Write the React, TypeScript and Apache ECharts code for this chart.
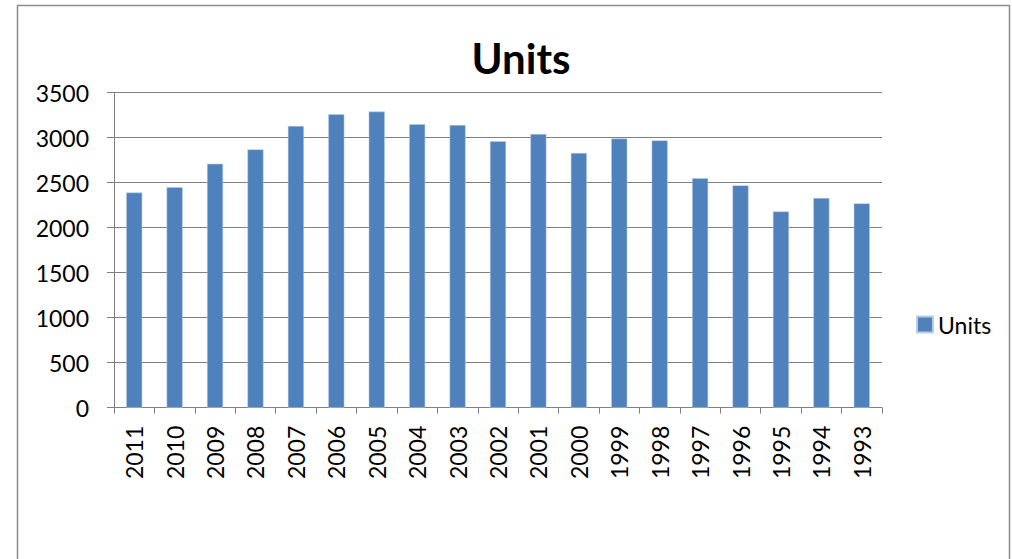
import React, { useEffect, useRef } from "react";
import * as echarts from "echarts";

const categories = ["2011","2010","2009","2008","2007","2006","2005","2004","2003","2002","2001","2000","1999","1998","1997","1996","1995","1994","1993"];
const units = [2390,2450,2710,2870,3130,3260,3290,3150,3140,2960,3040,2830,2990,2970,2550,2470,2180,2330,2270];
const seriesName = "Units";
const titleText = "Units";

export default function App() {
  const ref = useRef<HTMLDivElement>(null);
  useEffect(() => {
    if (!ref.current) return;
    const chart = echarts.init(ref.current, null, { renderer: "svg" });
    const font = "Lato, 'Liberation Sans', sans-serif";
    chart.setOption({
      animation: false,
      backgroundColor: "#ffffff",
      title: {
        text: titleText,
        left: 516,
        textAlign: "center",
        top: 32,
        textStyle: { fontFamily: font, fontSize: 42, fontWeight: "bold", color: "#000" },
      },
      legend: {
        data: [seriesName],
        left: 911,
        top: 308,
        icon: "rect",
        itemWidth: 16,
        itemHeight: 16,
        textStyle: { fontFamily: font, fontSize: 23, color: "#000" },
      },
      grid: { left: 114, right: 130, top: 92.7, bottom: 151.3, containLabel: false },
      xAxis: {
        type: "category",
        data: categories,
        axisLine: { lineStyle: { color: "#808080", width: 1 } },
        axisTick: { show: true, length: 6, lineStyle: { color: "#808080" } },
        axisLabel: { rotate: 90, margin: 18, fontFamily: font, fontSize: 23, color: "#000", interval: 0 },
      },
      yAxis: {
        type: "value",
        min: 0,
        max: 3500,
        interval: 500,
        axisLine: { show: true, lineStyle: { color: "#808080", width: 1 } },
        axisTick: { show: true, length: 7, lineStyle: { color: "#808080" } },
        axisLabel: { margin: 25, fontFamily: font, fontSize: 23, color: "#000", formatter: (v: number) => String(v) },
        splitLine: { lineStyle: { color: "#808080", width: 1 } },
      },
      series: [
        {
          name: seriesName,
          type: "bar",
          data: units,
          barWidth: 16,
          itemStyle: { color: "#4F81BD", borderColor: "#B9CDE5", borderWidth: 0.5 },
        },
      ],
      graphic: [
        {
          type: "rect",
          shape: { x: 17.5, y: 5.5, width: 992, height: 600 },
          style: { fill: "none", stroke: "#8c8c8c", lineWidth: 1.5 },
          silent: true,
        },
      ],
    });
    return () => chart.dispose();
  }, []);
  return (
    <div
      ref={ref}
      style={{ position: "absolute", left: 0, top: 0, width: 1012, height: 559 }}
    />
  );
}
